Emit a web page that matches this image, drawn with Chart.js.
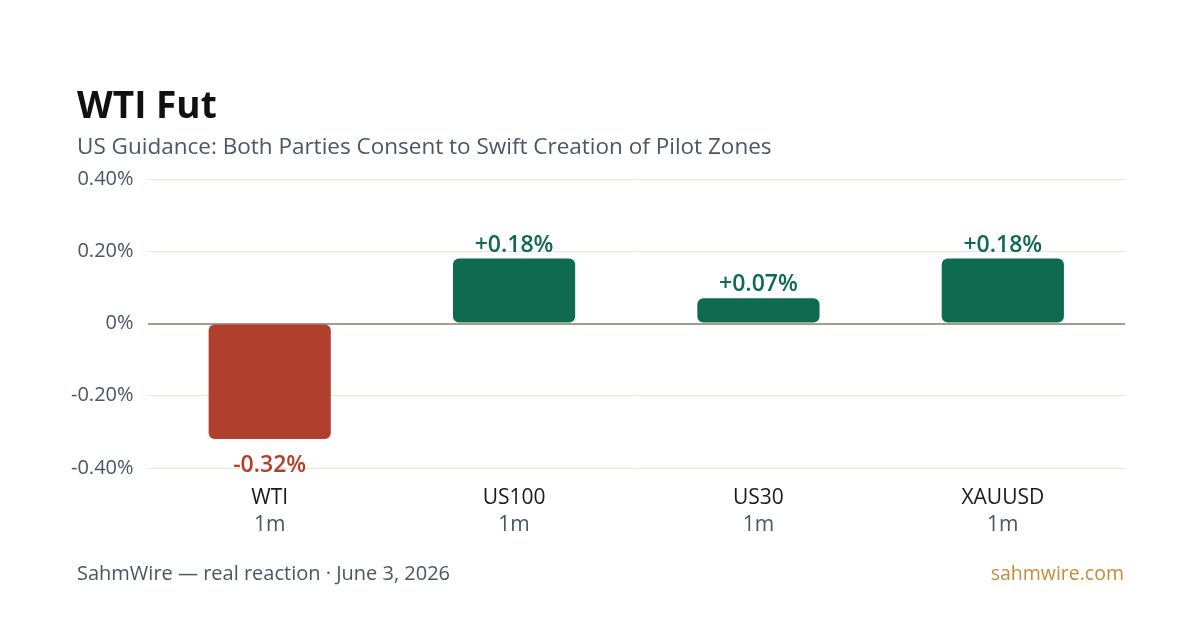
<!DOCTYPE html>
<html>
<head>
<meta charset="utf-8">
<script src="https://cdn.jsdelivr.net/npm/chart.js@4.4.1/dist/chart.umd.min.js"></script>
<style>
  html, body { margin: 0; padding: 0; background: #fff; }
  body { width: 1200px; height: 630px; position: relative; overflow: hidden; font-family: "Open Sans", sans-serif; }
  #wrap { position: absolute; left: 0; top: 0; width: 1200px; height: 630px; }
  .title { position: absolute; left: 77px; top: 80px; font-size: 37px; font-weight: 700; color: #111; line-height: 48px; }
  .subtitle { position: absolute; left: 77px; top: 130px; font-size: 22.5px; color: #4a5565; line-height: 32px; }
  .foot-l { position: absolute; left: 77px; top: 558px; font-size: 20px; color: #4a5565; line-height: 30px; }
  .foot-r { position: absolute; right: 76px; top: 558px; font-size: 19.5px; color: #c98a38; line-height: 30px; }
</style>
</head>
<body>
<div id="wrap"><canvas id="chart" width="1200" height="630"></canvas></div>
<div class="title">WTI Fut</div>
<div class="subtitle">US Guidance: Both Parties Consent to Swift Creation of Pilot Zones</div>
<div class="foot-l">SahmWire — real reaction · June 3, 2026</div>
<div class="foot-r">sahmwire.com</div>
<script>
//---------------------------------------
// Data
//---------------------------------------
const symbols = ['WTI', 'US100', 'US30', 'XAUUSD'];
const windows = ['1m', '1m', '1m', '1m'];
const moves = [-0.32, 0.18, 0.07, 0.18];
const y_ticks = [0.4, 0.2, 0, -0.2, -0.4];

const UP = '#0f6b50';
const DOWN = '#b03f2e';
const FONT = 'Open Sans';

//---------------------------------------
// Plugins
//---------------------------------------

// 値ラベル (バーの上/下)
const value_labels = {
  id: 'value_labels',
  afterDatasetsDraw(chart) {
    const ctx = chart.ctx;
    const meta = chart.getDatasetMeta(0);
    ctx.save();
    ctx.font = '600 23px "' + FONT + '"';
    ctx.textAlign = 'center';
    meta.data.forEach((bar, i) => {
      const v = moves[i];
      const txt = (v > 0 ? '+' : '') + v.toFixed(2) + '%';
      ctx.fillStyle = v >= 0 ? UP : DOWN;
      if (v >= 0) {
        ctx.textBaseline = 'bottom';
        ctx.fillText(txt, bar.x, bar.y - 2);
      } else {
        ctx.textBaseline = 'top';
        ctx.fillText(txt, bar.x, bar.y + 15);
      }
    });
    ctx.restore();
  }
};

// X軸ラベル (2行、色違い)
const x_labels = {
  id: 'x_labels',
  afterDraw(chart) {
    const ctx = chart.ctx;
    const xs = chart.scales.x;
    const top = chart.chartArea.bottom;
    ctx.save();
    ctx.textAlign = 'center';
    ctx.textBaseline = 'middle';
    symbols.forEach((s, i) => {
      const x = xs.getPixelForValue(i);
      ctx.font = '21px "' + FONT + '"';
      ctx.fillStyle = '#1a1a1a';
      ctx.fillText(s, x, top + 30);
      ctx.fillStyle = '#4a5565';
      ctx.fillText(windows[i], x, top + 57);
    });
    ctx.restore();
  }
};

//---------------------------------------
// Chart
//---------------------------------------
new Chart(document.getElementById('chart'), {
  type: 'bar',
  data: {
    labels: symbols,
    datasets: [{
      data: moves,
      backgroundColor: moves.map(v => v >= 0 ? UP : DOWN),
      borderRadius: 6,
      borderSkipped: false,
      barPercentage: 0.5,
      categoryPercentage: 1.0
    }]
  },
  options: {
    responsive: false,
    animation: false,
    layout: { padding: { top: 179, bottom: 162, left: 57, right: 75 } },
    plugins: { legend: { display: false }, tooltip: { enabled: false } },
    scales: {
      x: {
        grid: { display: false, drawTicks: false },
        border: { display: false },
        ticks: { display: false }
      },
      y: {
        min: -0.4,
        max: 0.4,
        afterBuildTicks(scale) { scale.ticks = y_ticks.map(v => ({ value: v })); },
        border: { display: false },
        grid: {
          drawTicks: false,
          color: ctx => ctx.tick && ctx.tick.value === 0 ? '#a39e8c' : '#ece5d5',
          lineWidth: ctx => ctx.tick && ctx.tick.value === 0 ? 2 : 1
        },
        ticks: {
          padding: 14,
          color: '#4a5565',
          font: { family: FONT, size: 20 },
          callback: v => v === 0 ? '0%' : v.toFixed(2) + '%'
        }
      }
    }
  },
  plugins: [value_labels, x_labels]
});
</script>
</body>
</html>
